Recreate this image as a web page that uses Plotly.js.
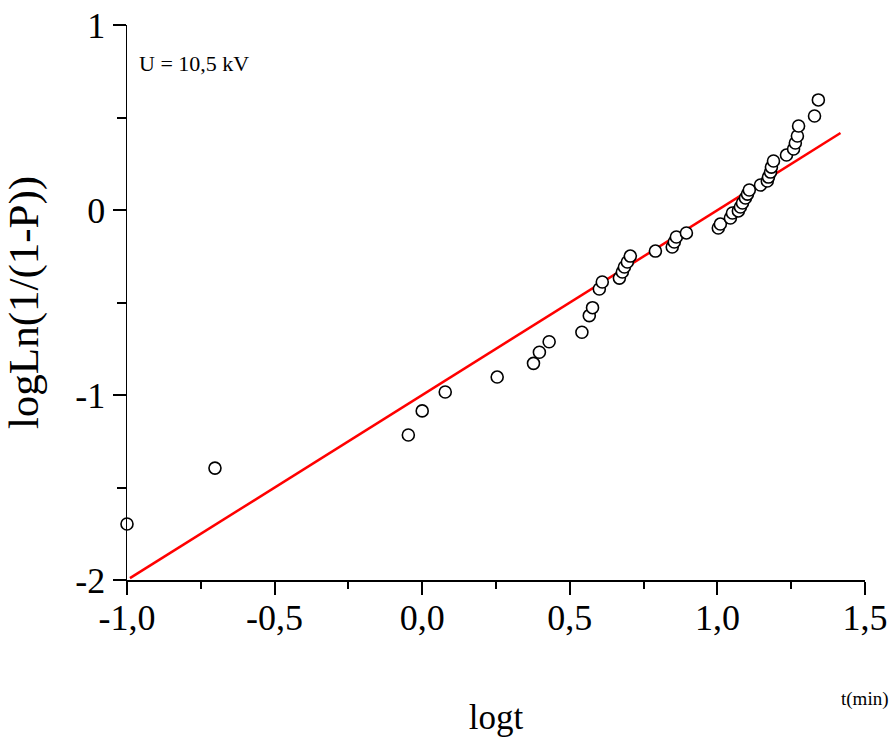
<!DOCTYPE html>
<html>
<head>
<meta charset="utf-8">
<script src="https://cdn.plot.ly/plotly-3.0.1.min.js"></script>
<style>html,body{margin:0;padding:0;background:#fff;}#chart{width:892px;height:740px;}</style>
</head>
<body>
<div id="chart"></div>
<script>
// Data points (logt, logLn(1/(1-P)))
const logT = [-1.000, -0.702, -0.047, 0.000, 0.078, 0.254, 0.377, 0.397, 0.430, 0.541,
  0.566, 0.577, 0.600, 0.610, 0.668, 0.678, 0.685, 0.695, 0.705, 0.790,
  0.847, 0.854, 0.861, 0.895, 1.003, 1.010, 1.044, 1.051, 1.071, 1.078,
  1.085, 1.095, 1.102, 1.108, 1.146, 1.169, 1.173, 1.180, 1.183, 1.190,
  1.234, 1.258, 1.264, 1.271, 1.275, 1.329, 1.342];
const logLn = [-1.697, -1.395, -1.216, -1.086, -0.984, -0.903, -0.829, -0.769, -0.712, -0.661,
  -0.571, -0.528, -0.427, -0.389, -0.368, -0.335, -0.308, -0.281, -0.249, -0.222,
  -0.200, -0.173, -0.146, -0.124, -0.097, -0.076, -0.043, -0.016, -0.005, 0.016,
  0.038, 0.065, 0.086, 0.108, 0.135, 0.157, 0.178, 0.205, 0.232, 0.265,
  0.297, 0.330, 0.362, 0.400, 0.454, 0.508, 0.595];

// Fitted line endpoints
const fitX = [-0.99, 1.417];
const fitY = [-1.99, 0.416];

// Tick labels
const xTickVals = [-1.0, -0.5, 0.0, 0.5, 1.0, 1.5];
const xTickText = ["-1,0", "-0,5", "0,0", "0,5", "1,0", "1,5"];
const yTickVals = [1, 0, -1, -2];
const yTickText = ["1", "0", "-1", "-2"];
const xMinorVals = [-0.75, -0.25, 0.25, 0.75, 1.25];
const yMinorVals = [0.5, -0.5, -1.5];

const serif = "'Liberation Serif', 'Times New Roman', serif";

const traces = [
  {x: fitX, y: fitY, mode: 'lines', type: 'scatter', line: {color: '#ff0000', width: 2.5},
   hoverinfo: 'skip', cliponaxis: false},
  {x: logT, y: logLn, mode: 'markers', type: 'scatter', cliponaxis: false,
   marker: {symbol: 'circle', size: 12, color: '#ffffff', line: {color: '#000000', width: 1.6}}}
];

const layout = {
  width: 892, height: 740,
  margin: {l: 127, r: 27, t: 25, b: 160},
  showlegend: false,
  font: {family: serif, color: 'black'},
  xaxis: {
    range: [-1.0, 1.5], showgrid: false, zeroline: false, showline: true, linecolor: 'black', linewidth: 1.5,
    ticks: 'outside', ticklen: 13, tickwidth: 2, tickcolor: 'black',
    tickmode: 'array', tickvals: xTickVals, ticktext: xTickText,
    ticklabelstandoff: -8,
    tickfont: {family: serif, size: 36, color: 'black'},
    minor: {tickmode: 'array', tickvals: xMinorVals, ticks: 'outside', ticklen: 7, tickwidth: 2, tickcolor: 'black', showgrid: false},
    title: {text: 'logt', font: {family: serif, size: 35, color: 'black'}, standoff: 68}
  },
  yaxis: {
    range: [-2, 1], showgrid: false, zeroline: false, showline: true, linecolor: 'black', linewidth: 1.5,
    ticks: 'outside', ticklen: 13, tickwidth: 2, tickcolor: 'black',
    tickmode: 'array', tickvals: yTickVals, ticktext: yTickText,
    tickfont: {family: serif, size: 36, color: 'black'},
    minor: {tickmode: 'array', tickvals: yMinorVals, ticks: 'outside', ticklen: 9, tickwidth: 2, tickcolor: 'black', showgrid: false},
    title: {text: 'logLn(1/(1-P))', font: {family: serif, size: 43, color: 'black'}, standoff: 26}
  },
  annotations: [
    {text: 'U = 10,5 kV', xref: 'paper', yref: 'paper', x: 0.013, y: 0.93, xanchor: 'left', yanchor: 'middle',
     showarrow: false, font: {family: serif, size: 22, color: 'black'}},
    {text: 't(min)', xref: 'paper', yref: 'paper', x: 1.035, y: -0.215, xanchor: 'right', yanchor: 'middle',
     showarrow: false, font: {family: serif, size: 19, color: 'black'}}
  ]
};

Plotly.newPlot('chart', traces, layout, {displayModeBar: false, staticPlot: true});
</script>
</body>
</html>
